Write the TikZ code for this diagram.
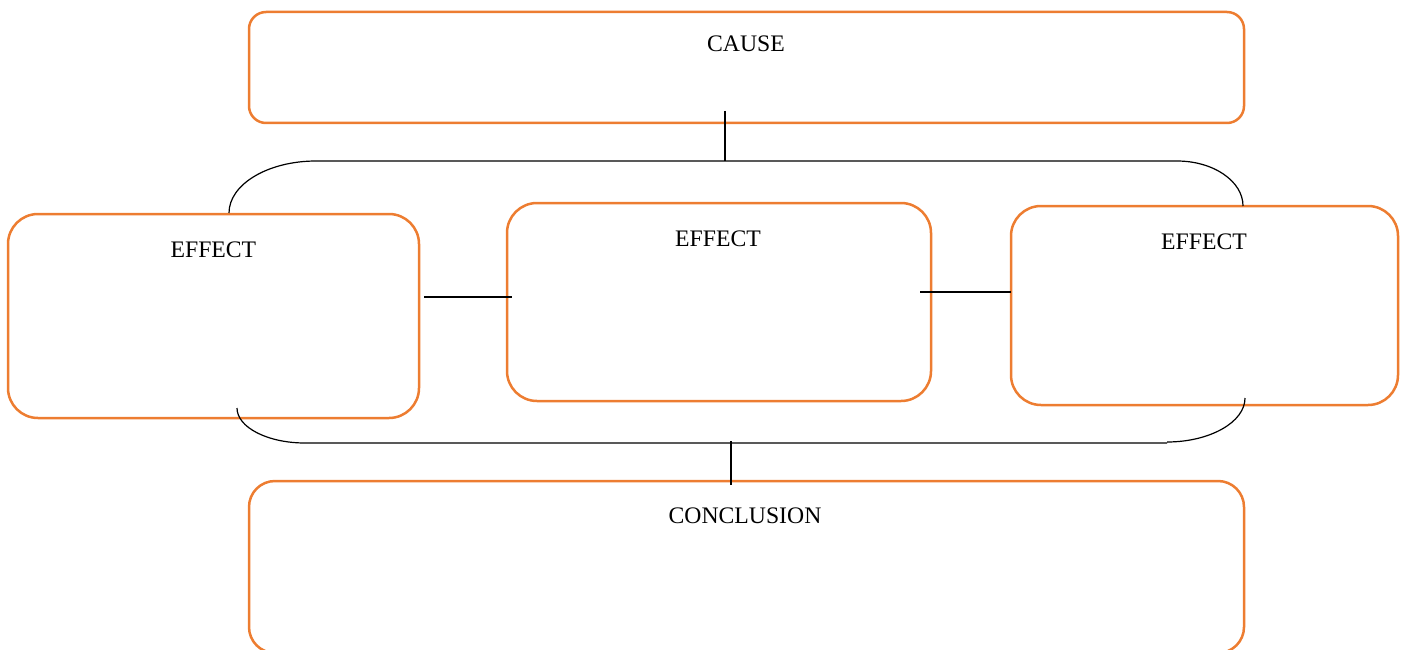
\documentclass[tikz,border=0pt]{standalone}
\usepackage{fontspec}
\setmainfont{Liberation Serif}
\definecolor{boxorange}{HTML}{ED7D31}
\begin{document}
\begin{tikzpicture}[x=1pt,y=-1pt,
  box/.style={draw=boxorange,line width=2.5pt,rectangle,inner sep=0pt,outer sep=0pt},
  lbl/.style={inner sep=0pt,anchor=base,font=\fontsize{23.7}{28}\selectfont},
  conn/.style={draw=black,line width=1.2pt}]
\useasboundingbox (0,0) rectangle (1407,650);
\begin{scope}
\clip (0,0) rectangle (1407,650);
% boxes
\node[box,rounded corners=17pt,minimum width=995pt,minimum height=111pt] (cause) at (746.5,67.5) {};
\node[box,rounded corners=30pt,minimum width=411pt,minimum height=204pt] (e1) at (213.5,316) {};
\node[box,rounded corners=30pt,minimum width=424pt,minimum height=198pt] (e2) at (719,302) {};
\node[box,rounded corners=30pt,minimum width=387pt,minimum height=199pt] (e3) at (1204.5,305.5) {};
\node[box,rounded corners=26pt,minimum width=995pt,minimum height=172pt] (concl) at (746.5,567) {};
\end{scope}
% labels
\node[lbl] (tcause) at (746,51.5) {CAUSE};
\node[lbl] (te1) at (213.4,257.5) {EFFECT};
\node[lbl] (te2) at (718,246.5) {EFFECT};
\node[lbl] (te3) at (1204,249.5) {EFFECT};
\node[lbl] (tconcl) at (745,523) {CONCLUSION};
% connector coordinates
\coordinate (ctop) at (725,111);
\coordinate (cbar) at (725,161);
\coordinate (tl) at (229,213);
\coordinate (tla) at (316,161);
\coordinate (tra) at (1177,161);
\coordinate (tr) at (1243,206);
\coordinate (bl) at (237,408);
\coordinate (bla) at (305,443);
\coordinate (bra) at (1167,442);
\coordinate (br) at (1245,398);
\coordinate (bbar) at (731,441);
\coordinate (cbot) at (731,485);
\coordinate (m1a) at (424,297);
\coordinate (m1b) at (512,297);
\coordinate (m2a) at (920,292);
\coordinate (m2b) at (1011,292);
% connectors
\draw[conn] (ctop) -- (cbar);
\draw[conn] (tl) .. controls (229,184.3) and (268,161) .. (tla) -- (tra)
  .. controls (1213.4,161) and (1243,181.2) .. (tr);
\draw[conn] (bl) .. controls (237,427.3) and (267.5,443) .. (bla) -- (1167,443) (bra)
  .. controls (1209.5,442) and (1245,422.3) .. (br);
\draw[conn] (bbar) -- (cbot);
\draw[conn] (m1a) -- (m1b);
\draw[conn] (m2a) -- (m2b);
\end{tikzpicture}
\end{document}
